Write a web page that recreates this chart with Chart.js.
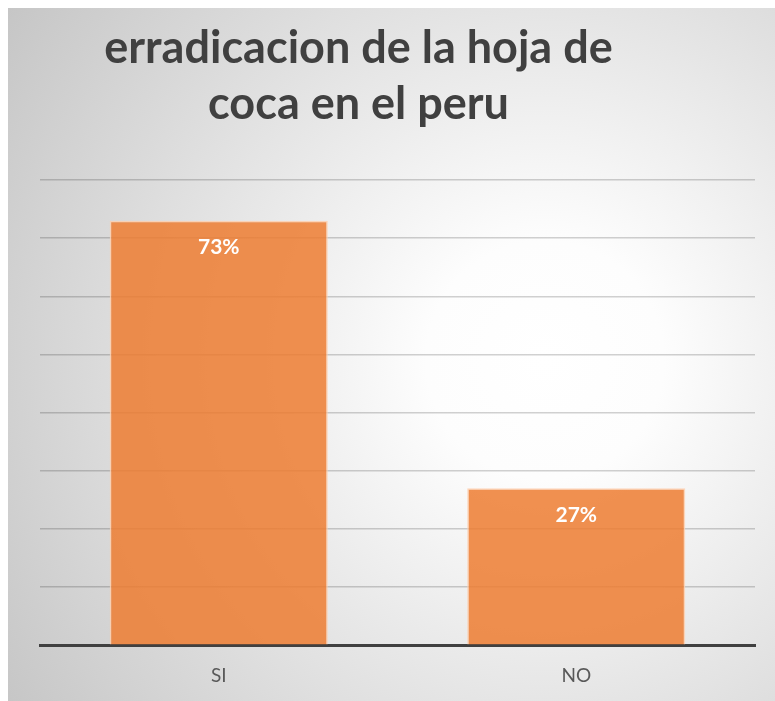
<!DOCTYPE html>
<html>
<head>
<meta charset="utf-8">
<script src="https://cdn.jsdelivr.net/npm/chart.js@4/dist/chart.umd.min.js"></script>
<style>
  html, body { margin: 0; padding: 0; background: #fff; }
  #wrap { width: 775px; height: 701px; }
</style>
</head>
<body>
<div id="wrap"><canvas id="chart"></canvas></div>
<script>
// data
var categories = ['SI', 'NO'];
var shares = [0.73, 0.27];
var titleLines = ['erradicacion de la hoja de', 'coca en el peru'];
var yMax = 0.8;
var yStep = 0.1;

var FONT = 'Lato, "Open Sans", sans-serif';

// gray radial frame behind everything
var backdrop = {
  id: 'backdrop',
  beforeDraw: function (chart) {
    var ctx = chart.ctx;
    ctx.save();
    ctx.fillStyle = '#ffffff';
    ctx.fillRect(0, 0, chart.width, chart.height);
    var g = ctx.createRadialGradient(545, 360, 0, 545, 360, 660);
    g.addColorStop(0, '#ffffff');
    g.addColorStop(0.18, '#fdfdfd');
    g.addColorStop(1, '#c4c4c4');
    ctx.fillStyle = g;
    ctx.fillRect(8, 8, chart.width - 8, chart.height - 8);
    ctx.restore();
  }
};

// title drawn by hand so it can sit a bit left of centre
var titleText = {
  id: 'titleText',
  afterDraw: function (chart) {
    var ctx = chart.ctx;
    var cx = (chart.chartArea.left + chart.chartArea.right) / 2 - 39;
    ctx.save();
    ctx.fillStyle = '#404040';
    ctx.font = 'bold 45px ' + FONT;
    ctx.textAlign = 'center';
    ctx.textBaseline = 'alphabetic';
    titleLines.forEach(function (line, i) {
      ctx.fillText(line, cx, 63 + i * 56);
    });
    ctx.restore();
  }
};

// percentage labels inside the top of each bar
var barLabels = {
  id: 'barLabels',
  afterDatasetsDraw: function (chart) {
    var ctx = chart.ctx;
    var meta = chart.getDatasetMeta(0);
    ctx.save();
    ctx.fillStyle = '#ffffff';
    ctx.font = 'bold 21px ' + FONT;
    ctx.textAlign = 'center';
    ctx.textBaseline = 'middle';
    meta.data.forEach(function (bar, i) {
      ctx.fillText(Math.round(shares[i] * 100) + '%', bar.x, bar.y + 27);
    });
    ctx.restore();
  }
};

var barChart = new Chart(document.getElementById('chart'), {
  type: 'bar',
  data: {
    labels: categories,
    datasets: [{
      data: shares,
      backgroundColor: 'rgba(237, 125, 49, 0.85)',
      borderColor: 'rgba(255, 205, 170, 0.8)',
      borderWidth: 1.5,
      barPercentage: 0.61,
      categoryPercentage: 1
    }]
  },
  options: {
    responsive: true,
    maintainAspectRatio: false,
    animation: false,
    layout: { padding: { top: 180, left: 40, right: 20, bottom: 3 } },
    plugins: {
      legend: { display: false },
      title: { display: false },
      tooltip: { enabled: false }
    },
    scales: {
      x: {
        grid: { display: false },
        border: { color: '#404040', width: 3 },
        ticks: { color: '#595959', font: { family: FONT, size: 19 }, padding: 11 }
      },
      y: {
        min: 0,
        max: yMax,
        ticks: { display: false, stepSize: yStep },
        border: { display: false },
        grid: {
          color: function (c) { return c.tick.value === 0 ? 'rgba(0,0,0,0)' : 'rgba(0,0,0,0.18)'; },
          lineWidth: 1.5,
          drawTicks: false
        }
      }
    }
  },
  plugins: [backdrop, titleText, barLabels]
});
</script>
</body>
</html>
